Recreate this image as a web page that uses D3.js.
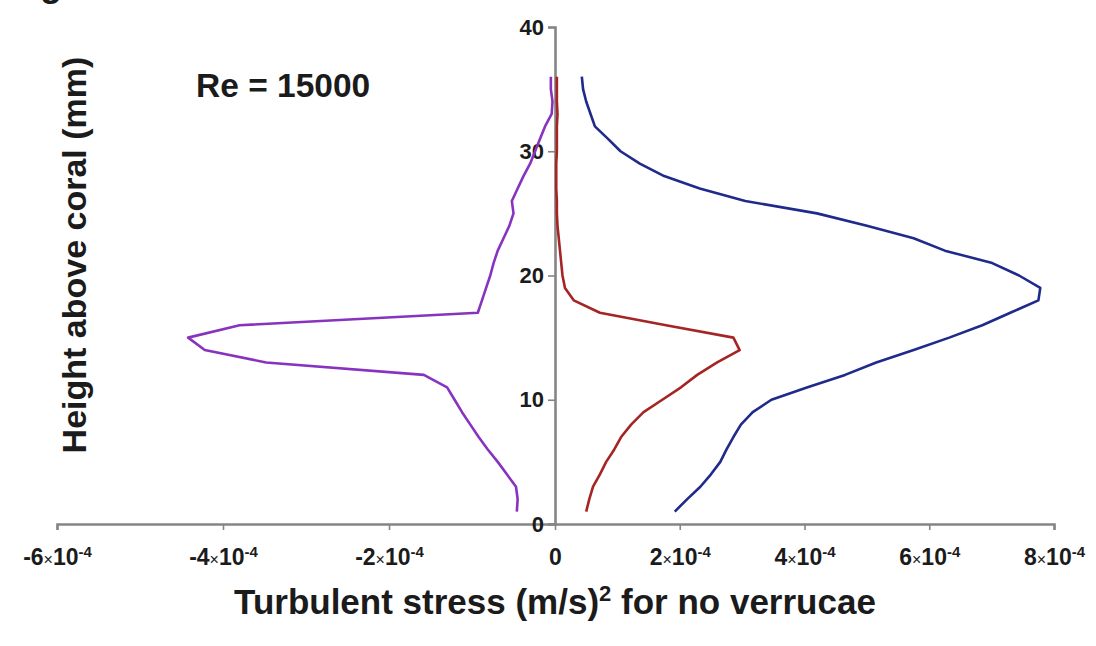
<!DOCTYPE html>
<html>
<head>
<meta charset="utf-8">
<script src="https://cdn.jsdelivr.net/npm/d3@7"></script>
<style>
  body { margin: 0; background: #fff; }
  svg text { font-family: "Liberation Sans", Arial, sans-serif; font-weight: bold; fill: #1b1b1b; }
</style>
</head>
<body>
<script>
// heights above coral (mm)
const heights = [1, 2, 3, 4, 5, 6, 7, 8, 9, 10, 11, 12, 13, 14, 15, 16, 17, 18,
                 19, 20, 21, 22, 23, 24, 25, 26, 27, 28, 29, 30, 31, 32, 33, 34, 35, 36];

// turbulent stress, in units of 1e-4 (m/s)^2
const purpleVals = [-0.46, -0.45, -0.47, -0.58, -0.69, -0.81, -0.92, -1.02, -1.12, -1.21, -1.30, -1.58,
                    -3.48, -4.22, -4.42, -3.80, -0.93, -0.88, -0.83, -0.78, -0.74, -0.69, -0.62, -0.55,
                    -0.50, -0.52, -0.45, -0.38, -0.30, -0.24, -0.18, -0.12, -0.04, -0.03, -0.05, -0.05];
const redVals    = [0.50, 0.55, 0.61, 0.72, 0.82, 0.95, 1.06, 1.22, 1.42, 1.72, 2.02, 2.28,
                    2.60, 2.96, 2.86, 1.78, 0.72, 0.30, 0.16, 0.12, 0.10, 0.08, 0.06, 0.04,
                    0.03, 0.03, 0.02, 0.02, 0.02, 0.03, 0.03, 0.03, 0.04, 0.03, 0.03, 0.03];
const blueVals   = [1.92, 2.12, 2.33, 2.50, 2.65, 2.75, 2.86, 2.98, 3.17, 3.47, 4.05, 4.65,
                    5.15, 5.75, 6.32, 6.85, 7.30, 7.75, 7.78, 7.44, 7.01, 6.25, 5.75, 5.00,
                    4.20, 3.05, 2.32, 1.75, 1.36, 1.05, 0.85, 0.64, 0.57, 0.50, 0.45, 0.43];

const xTicks = [-6, -4, -2, 0, 2, 4, 6, 8];
const yTicks = [0, 10, 20, 30, 40];

const series = [
  {name: "purple", values: purpleVals, color: "#8733bf"},
  {name: "red",    values: redVals,    color: "#a52424"},
  {name: "blue",   values: blueVals,   color: "#1f2a8a"}
];

init();

function init() {
  let svg = d3.select("body")
              .append("svg")
              .attr("width", 1096)
              .attr("height", 646);

  // x axis is split: left part and right part have their own length
  let x = d3.scaleLinear().domain([-6, 0, 8]).range([57, 555, 1054]);
  let y = d3.scaleLinear().domain([0, 40]).range([524, 27]);

  let axisColor = "#858585";

  // x axis
  let gx = svg.append("g")
              .attr("transform", "translate(0," + y(0) + ")")
              .call(d3.axisBottom(x).tickValues(xTicks).tickSizeOuter(0).tickSize(6).tickPadding(19));
  gx.select(".domain").attr("stroke", axisColor).attr("stroke-width", 2.6);
  gx.selectAll(".tick line").attr("stroke", axisColor).attr("stroke-width", 1.6);
  gx.selectAll(".tick text")
    .style("font-size", "23px")
    .attr("fill", "#1b1b1b")
    .text(null)
    .each(function(d) {
      let t = d3.select(this);
      if (d === 0) { t.text("0"); return; }
      t.append("tspan").text(d + "");
      t.append("tspan").text("\u00d7").style("font-size", "16px").style("font-weight", "normal");
      t.append("tspan").text("10");
      t.append("tspan").text("-4").style("font-size", "15px").attr("dy", "-0.55em");
    });

  // y axis
  let gy = svg.append("g")
              .attr("transform", "translate(" + x(0) + ",0)")
              .call(d3.axisLeft(y).tickValues(yTicks).tickSizeOuter(0).tickSize(7).tickPadding(4));
  gy.select(".domain").attr("stroke", axisColor).attr("stroke-width", 2.6);
  gy.selectAll(".tick line").attr("stroke", axisColor).attr("stroke-width", 1.6);
  gy.selectAll(".tick text")
    .style("font-size", "22px")
    .attr("fill", "#1b1b1b");

  // lines
  let line = d3.line()
               .x(d => x(d[1]))
               .y(d => y(d[0]));

  series.forEach(s => {
    let pts = heights.map((h, i) => [h, s.values[i]]);
    svg.append("path")
       .datum(pts)
       .attr("fill", "none")
       .attr("stroke", s.color)
       .attr("stroke-width", 2.6)
       .attr("stroke-linejoin", "round")
       .attr("d", line);
  });

  // titles
  let xt = svg.append("text")
     .attr("x", 555)
     .attr("y", 614)
     .style("text-anchor", "middle")
     .style("font-size", "35px");
  xt.append("tspan").text("Turbulent stress (m/s)");
  xt.append("tspan").text("2").style("font-size", "22px").attr("dy", "-0.6em");
  xt.append("tspan").text(" for no verrucae").attr("dy", "0.38em");

  svg.append("text")
     .attr("transform", "translate(86,255) rotate(-90)")
     .style("text-anchor", "middle")
     .style("font-size", "34px")
     .text("Height above coral (mm)");

  svg.append("text")
     .attr("x", 196)
     .attr("y", 97)
     .style("font-size", "33.5px")
     .text("Re = 15000");

  // panel letter, cut by the top edge as in the source figure
  svg.append("text")
     .attr("x", 40)
     .attr("y", -4)
     .style("font-size", "36px")
     .text("g");
}
</script>
</body>
</html>
